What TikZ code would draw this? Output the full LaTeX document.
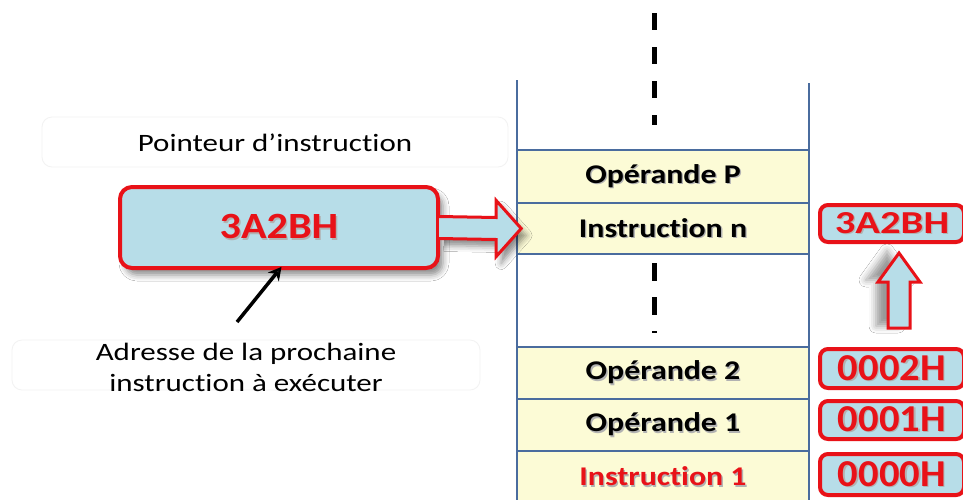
\documentclass[tikz,border=0pt]{standalone}
\usepackage{fontspec}
\setmainfont{Carlito}[Ligatures=NoCommon]
% widened cuts of the same family for the different text groups
\newfontfamily\lblfont{Carlito}[FakeStretch=1.24,Ligatures=NoCommon]
\newfontfamily\ptrfont{Carlito}[FakeStretch=1.14,Ligatures=NoCommon]
\newfontfamily\cellfont{Carlito}[FakeStretch=1.18,Ligatures=NoCommon]
\newfontfamily\addrfont{Carlito}[FakeStretch=1.07,Ligatures=NoCommon]
\newfontfamily\addrtopfont{Carlito}[FakeStretch=1.27,Ligatures=NoCommon]
\usetikzlibrary{shadows.blur,calc,arrows.meta}

\definecolor{ptrred}{RGB}{232,18,24}
\definecolor{ptrblue}{RGB}{183,221,232}
\definecolor{cellfill}{RGB}{252,251,214}
\definecolor{cellline}{RGB}{74,108,158}

% text with a soft grey offset copy behind it
\newcommand\shadowed[1]{\makebox[0pt][l]{\hspace{1.3pt}\raisebox{-1.3pt}{\color{black!30}#1}}#1}

\tikzset{
  softshadow/.style={blur shadow={shadow xshift=5pt,shadow yshift=-7pt,
      shadow blur radius=6pt,shadow opacity=45}},
  ptrbox/.style={draw=ptrred,line width=4pt,fill=ptrblue,rounded corners=12pt,
      softshadow,text=ptrred,font=\ptrfont\bfseries\fontsize{37}{40}\selectfont},
  addrbox/.style={draw=ptrred,line width=4pt,fill=ptrblue,rounded corners=8pt,
      minimum width=144pt,text=ptrred,font=\addrfont\bfseries\fontsize{38}{42}\selectfont},
  cell/.style={draw=cellline,line width=1.6pt,fill=cellfill,minimum width=292pt,
      font=\cellfont\bfseries\fontsize{27}{31}\selectfont},
  blockarrow/.style={draw=ptrred,line width=3pt,fill=ptrblue,line join=miter},
  labelbox/.style={draw=black!5,line width=0.8pt,rounded corners=10pt},
  labeltext/.style={font=\lblfont\fontsize{25}{31}\selectfont,align=center},
  dots/.style={line width=5pt,black},
}

\begin{document}
\begin{tikzpicture}[x=1pt,y=-1pt]
\useasboundingbox (0,0) rectangle (963,499);
\clip (0,0) rectangle (963,499);
\fill[white] (0,0) rectangle (963,499);

% memory stack
\node[cell,minimum height=53pt] (opP) at (663,176.5) {\shadowed{Opérande P}};
\node[cell,minimum height=51pt] (instrN) at (663,228.5) {\shadowed{Instruction n}};
\node[cell,minimum height=52pt] (op2) at (663,373) {\shadowed{Opérande 2}};
\node[cell,minimum height=52pt] (op1) at (663,425) {\shadowed{Opérande 1}};
\node[cell,minimum height=52pt,text=ptrred] (instr1) at (663,477) {\shadowed{Instruction 1}};

\draw[cellline,line width=2.4pt] (517,80) -- (517,499);
\draw[cellline,line width=2.4pt] (809,83) -- (809,499);

% continuation marks
\draw[dots,dash pattern=on 17pt off 17pt] (654,13) -- (654,125);
\draw[dots,dash pattern=on 18pt off 16pt] (654,263) -- (654,333);

% labels
\draw[labelbox] (42,117) rectangle (508,167);
\node[labeltext] (lblptr) at (275,143) {Pointeur d’instruction};
\draw[labelbox] (12,340) rectangle (480,390);
\node[labeltext] (lbladdr) at (246,367) {Adresse de la prochaine\\instruction à exécuter};

% instruction pointer
\node[ptrbox,minimum width=318pt,minimum height=81pt] (ptr) at (279,227.5) {\shadowed{3A2BH}};

% addresses
\node[addrbox,minimum height=37pt,font=\addrtopfont\bfseries\fontsize{32}{36}\selectfont] (addrN) at (892,223.5) {\shadowed{3A2BH}};
\node[addrbox,minimum height=39pt] (addr2) at (892,368.5) {\shadowed{0002H}};
\node[addrbox,minimum height=38pt] (addr1) at (892,420) {\shadowed{0001H}};
\node[addrbox,minimum height=41pt] (addr0) at (892,474.5) {\shadowed{0000H}};

% pointer -> instruction n
\draw[blockarrow,softshadow]
  ($(ptr.east)+(-1,-11)$) -- ($(instrN.west)+(-20,-11)$) -- ($(instrN.west)+(-20,-28)$)
  -- ($(instrN.west)+(5,0)$) -- ($(instrN.west)+(-20,28)$) -- ($(instrN.west)+(-20,11)$)
  -- ($(ptr.east)+(-1,11)$);

% addresses grow upwards
\draw[blockarrow,blur shadow={shadow xshift=-12pt,shadow yshift=2pt,
      shadow blur radius=7pt,shadow opacity=40}]
  ($(addr2.north)+(-4,-19)$) -- ($(addrN.south)+(-4,38)$) -- ($(addrN.south)+(-14,38)$)
  -- ($(addrN.south)+(7,9)$) -- ($(addrN.south)+(28,38)$) -- ($(addrN.south)+(18,38)$)
  -- ($(addr2.north)+(18,-19)$) -- cycle;

% explanation arrow
\coordinate (tail) at (237,322);
\draw[line width=3.5pt,-{Stealth[length=13pt,width=14pt]},shorten >=-4pt] (tail) -- (ptr.south);
\end{tikzpicture}
\end{document}
